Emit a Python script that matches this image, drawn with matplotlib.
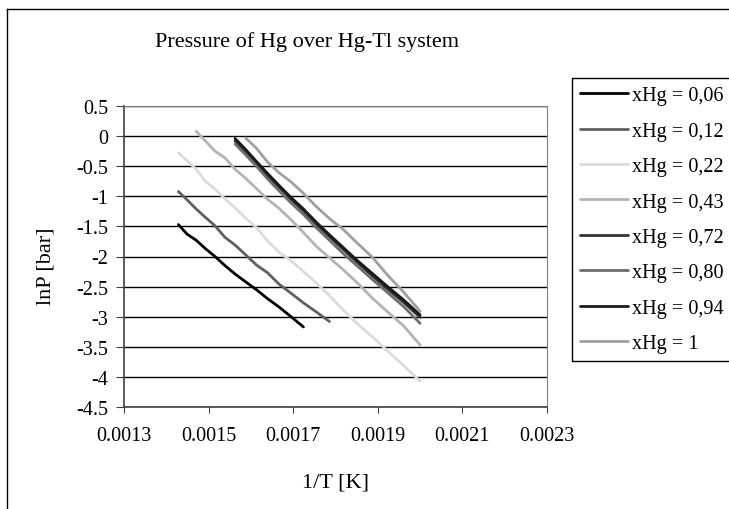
import matplotlib
matplotlib.use("Agg")
import matplotlib.pyplot as plt
from matplotlib.lines import Line2D

plt.rcParams['font.family'] = ['Liberation Serif', 'DejaVu Serif']

# 1/T values (T = 700 ... 500 K, 10 K steps)
inv_T = [0.0014286, 0.0014493, 0.0014706, 0.0014925, 0.0015152, 0.0015385,
         0.0015625, 0.0015873, 0.0016129, 0.0016393, 0.0016667, 0.0016949,
         0.0017241, 0.0017544, 0.0017857, 0.0018182, 0.0018519, 0.0018868,
         0.0019231, 0.0019608, 0.0020000]

# lnP readings, each series starts at some temperature in the list above
lnP_006 = [-1.47, -1.63, -1.73, -1.87, -2.00, -2.15, -2.29, -2.42, -2.55, -2.70,
           -2.84, -3.00, -3.17]
lnP_012 = [-0.92, -1.06, -1.21, -1.35, -1.49, -1.68, -1.81, -1.97, -2.14, -2.27,
           -2.46, -2.61, -2.77, -2.92, -3.08]
lnP_022 = [-0.28, -0.41, -0.55, -0.75, -0.88, -1.04, -1.19, -1.36, -1.52, -1.74,
           -1.93, -2.07, -2.25, -2.44, -2.65, -2.89, -3.12, -3.33, -3.57, -3.81,
           -4.07]
lnP_043 = [0.08, -0.08, -0.25, -0.36, -0.55, -0.70, -0.87, -1.05, -1.20, -1.39,
           -1.60, -1.83, -2.02, -2.22, -2.44, -2.69, -2.92, -3.15, -3.47]
lnP_072 = [-0.08, -0.25, -0.45, -0.66, -0.85, -1.05, -1.24, -1.46, -1.67, -1.88,
           -2.10, -2.32, -2.54, -2.76, -3.01]
lnP_080 = [-0.13, -0.31, -0.50, -0.71, -0.91, -1.11, -1.30, -1.52, -1.73, -1.95,
           -2.16, -2.38, -2.60, -2.83, -3.11]
lnP_094 = [-0.04, -0.22, -0.42, -0.62, -0.82, -1.02, -1.21, -1.43, -1.64, -1.85,
           -2.07, -2.28, -2.50, -2.72, -2.97]
lnP_100 = [-0.03, -0.20, -0.43, -0.61, -0.76, -0.95, -1.17, -1.37, -1.55, -1.78,
           -2.01, -2.31, -2.59, -2.91]

labels = ['xHg = 0,06', 'xHg = 0,12', 'xHg = 0,22', 'xHg = 0,43',
          'xHg = 0,72', 'xHg = 0,80', 'xHg = 0,94', 'xHg = 1']
series = [lnP_006, lnP_012, lnP_022, lnP_043, lnP_072, lnP_080, lnP_094, lnP_100]
start_idx = [0, 0, 0, 2, 6, 6, 6, 7]
colors = ['#000000', '#606060', '#dcdcdc', '#b4b4b4',
          '#333333', '#6e6e6e', '#1a1a1a', '#a0a0a0']

W, H = 729, 510
fig = plt.figure(figsize=(W / 100, H / 100), dpi=100)

# chart area frame (runs off the right and bottom of the picture)
fig.add_artist(Line2D([7 / W, 1.0], [1 - 10 / H, 1 - 10 / H], color='black', lw=1))
fig.add_artist(Line2D([7 / W, 7 / W], [0, 1 - 10 / H], color='black', lw=1))

ax = fig.add_axes([124 / W, (H - 408) / H, 423 / W, 301 / H])

for i in range(len(series)):
    s = start_idx[i]
    ys = series[i]
    xs = inv_T[s:s + len(ys)]
    ax.plot(xs, ys, color=colors[i], lw=2.0, label=labels[i],
            solid_joinstyle='round', solid_capstyle='round')

ax.set_xlim(0.0013, 0.0023)
ax.set_ylim(-4.5, 0.5)
xt = [0.0013, 0.0015, 0.0017, 0.0019, 0.0021, 0.0023]
ax.set_xticks(xt)
ax.set_xticklabels(['%.4f' % v for v in xt])
yt = [0.5, 0, -0.5, -1, -1.5, -2, -2.5, -3, -3.5, -4, -4.5]
ax.set_yticks(yt)
ax.set_yticklabels(['%g' % v for v in yt])
ax.grid(axis='y', color='black', lw=1)
ax.set_axisbelow(True)

for side in ['top', 'right']:
    ax.spines[side].set_color('#808080')
for side in ['left', 'bottom']:
    ax.spines[side].set_color('#404040')
    ax.spines[side].set_linewidth(1.2)

fs = 14.5
ax.tick_params(axis='x', direction='out', length=4.5, pad=9.5, labelsize=fs,
               color='#404040')
ax.tick_params(axis='y', direction='out', length=6, pad=5.5, labelsize=fs,
               color='#404040')

ax.set_xlabel('1/T [K]', fontsize=16)
ax.xaxis.set_label_coords(0.5, -0.216)
ax.set_ylabel('lnP [bar]', fontsize=16)
ax.yaxis.set_label_coords(-0.163, 0.47)

fig.text(307 / W, 1 - 42 / H, 'Pressure of Hg over Hg-Tl system',
         ha='center', va='center', fontsize=16)

leg = ax.legend(loc='upper left', bbox_to_anchor=(572 / W, 1 - 79 / H),
                bbox_transform=fig.transFigure, borderaxespad=0,
                fontsize=14.6, handlelength=2.34, handletextpad=0.2,
                labelspacing=0.8, borderpad=0.4, fancybox=False,
                framealpha=1, edgecolor='black')
leg.get_frame().set_linewidth(1)

fig.savefig('out.png', dpi=100)
